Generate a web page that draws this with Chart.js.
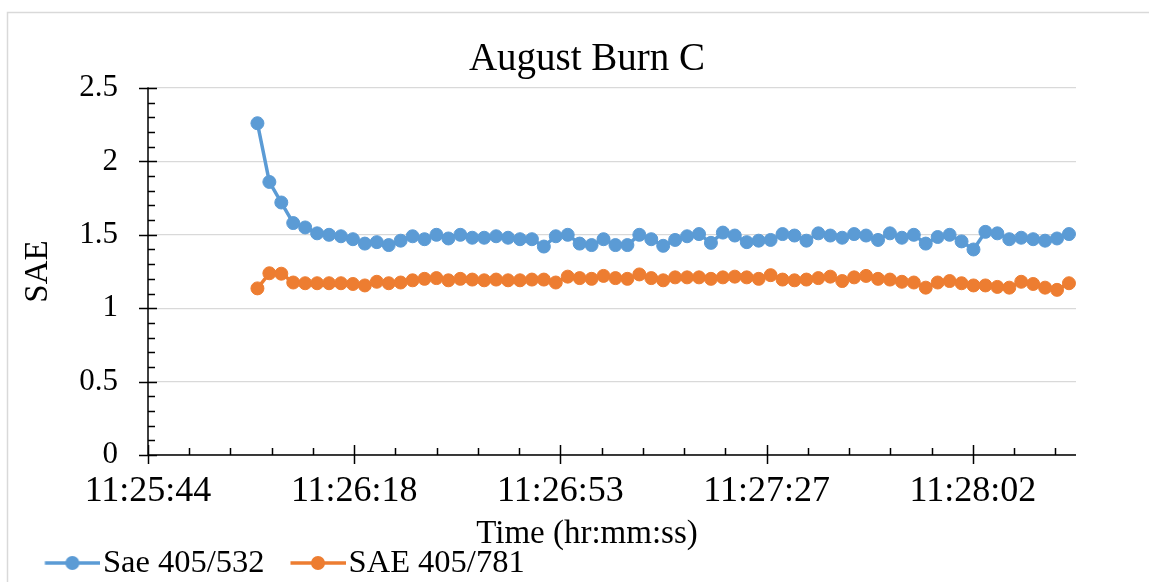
<!DOCTYPE html>
<html>
<head>
<meta charset="utf-8">
<title>August Burn C</title>
<script src="https://cdn.jsdelivr.net/npm/chart.js@4.4.1/dist/chart.umd.min.js"></script>
<style>
  html, body { margin: 0; padding: 0; background: #fff; }
  #wrap { width: 1149px; height: 582px; }
</style>
</head>
<body>
<div id="wrap"><canvas id="chart_sae" width="1149" height="582"></canvas></div>
<script>
const chartTitle = "August Burn C";
const xAxisTitle = "Time (hr:mm:ss)";
const yAxisTitle = "SAE";
const seriesNames = ["Sae 405/532", "SAE 405/781"];
const seriesColors = ["#5B9BD5", "#ED7D31"];

// sample times (hr:mm:ss)
const times = [
  "11:26:02", "11:26:04", "11:26:06", "11:26:08", "11:26:10", "11:26:12", "11:26:14", "11:26:16",
  "11:26:18", "11:26:20", "11:26:22", "11:26:24", "11:26:26", "11:26:28", "11:26:30", "11:26:32",
  "11:26:34", "11:26:36", "11:26:38", "11:26:40", "11:26:42", "11:26:44", "11:26:46", "11:26:48",
  "11:26:50", "11:26:52", "11:26:54", "11:26:56", "11:26:58", "11:27:00", "11:27:02", "11:27:04",
  "11:27:06", "11:27:08", "11:27:10", "11:27:12", "11:27:14", "11:27:16", "11:27:18", "11:27:20",
  "11:27:22", "11:27:24", "11:27:26", "11:27:28", "11:27:30", "11:27:32", "11:27:34", "11:27:36",
  "11:27:38", "11:27:40", "11:27:42", "11:27:44", "11:27:46", "11:27:48", "11:27:50", "11:27:52",
  "11:27:54", "11:27:56", "11:27:58", "11:28:00", "11:28:02", "11:28:04", "11:28:06", "11:28:08",
  "11:28:10", "11:28:12", "11:28:14", "11:28:16", "11:28:18"
];

const sae532 = [
  2.26, 1.86, 1.72, 1.58, 1.55, 1.51, 1.50, 1.49, 1.47, 1.44, 1.45, 1.43,
  1.46, 1.49, 1.47, 1.50, 1.475, 1.50, 1.48, 1.48, 1.49, 1.48, 1.47, 1.47,
  1.42, 1.49, 1.50, 1.44, 1.43, 1.47, 1.43, 1.43, 1.50, 1.47, 1.425, 1.465,
  1.49, 1.505, 1.445, 1.515, 1.495, 1.45, 1.46, 1.465, 1.505, 1.495, 1.46, 1.51,
  1.495, 1.48, 1.505, 1.495, 1.465, 1.51, 1.48, 1.50, 1.44, 1.485, 1.50, 1.455,
  1.40, 1.52, 1.51, 1.47, 1.48, 1.47, 1.46, 1.475, 1.505
];

const sae781 = [
  1.135, 1.238, 1.235, 1.175, 1.17, 1.17, 1.17, 1.17, 1.165, 1.155, 1.18, 1.17,
  1.175, 1.19, 1.20, 1.205, 1.19, 1.20, 1.195, 1.19, 1.195, 1.19, 1.19, 1.195,
  1.195, 1.175, 1.215, 1.205, 1.20, 1.22, 1.205, 1.20, 1.23, 1.205, 1.19, 1.21,
  1.21, 1.21, 1.20, 1.21, 1.215, 1.21, 1.20, 1.225, 1.195, 1.19, 1.195, 1.205,
  1.215, 1.185, 1.21, 1.22, 1.20, 1.195, 1.18, 1.175, 1.14, 1.175, 1.185, 1.17,
  1.155, 1.155, 1.145, 1.14, 1.18, 1.165, 1.14, 1.125, 1.17
];

const xTickLabels = ["11:25:44", "11:26:18", "11:26:53", "11:27:27", "11:28:02"];

// x axis in seconds since midnight, major unit 0.0004 day like the Excel sheet
const X_MIN = 41143.66;
const X_MAJOR = 34.56;
const X_MAX = X_MIN + 4.5 * X_MAJOR;
const Y_MAX = 2.5;
const Y_MAJOR = 0.5;

const FONT = "'Liberation Serif', 'Times New Roman', serif";
Chart.defaults.font.family = FONT;
Chart.defaults.color = "#000";

function toSeconds(t) {
  const p = t.split(":").map(Number);
  return p[0] * 3600 + p[1] * 60 + p[2];
}

// legend marker: short line with a dot, as Excel draws it
function makeLegendMark(color) {
  const c = document.createElement("canvas");
  c.width = 89;
  c.height = 20;
  const g = c.getContext("2d");
  g.strokeStyle = color;
  g.lineWidth = 3.5;
  g.beginPath();
  g.moveTo(33.5, 10);
  g.lineTo(89, 10);
  g.stroke();
  g.fillStyle = color;
  g.beginPath();
  g.arc(61, 10, 7, 0, Math.PI * 2);
  g.fill();
  return c;
}
const legendMarks = seriesColors.map(makeLegendMark);

const excelFrame = {
  id: "excelFrame",
  beforeDraw(chart) {
    const ctx = chart.ctx;
    ctx.save();
    ctx.strokeStyle = "#d9d9d9";
    ctx.lineWidth = 1.5;
    ctx.strokeRect(7.5, 12.5, chart.width + 40, chart.height + 40);
    ctx.restore();
  },
  afterDraw(chart) {
    const {ctx, chartArea, scales} = chart;
    const x = scales.x, y = scales.y;
    const left = chartArea.left, bottom = chartArea.bottom;
    ctx.save();
    ctx.strokeStyle = "#000";
    ctx.lineWidth = 1.5;
    ctx.beginPath();
    ctx.moveTo(left, chartArea.top - 0.75);
    ctx.lineTo(left, bottom);
    ctx.lineTo(chartArea.right, bottom);
    // y ticks: major cross the axis, minor inside
    for (let v = 0; v <= Y_MAX + 1e-9; v += Y_MAJOR / 5) {
      const py = Math.round(y.getPixelForValue(v)) + 0.5;
      const major = Math.abs(v / Y_MAJOR - Math.round(v / Y_MAJOR)) < 1e-6;
      ctx.moveTo(major ? left - 9 : left, py);
      ctx.lineTo(major ? left + 9 : left + 7, py);
    }
    // x ticks
    for (let k = 0; k <= 22; k++) {
      const px = Math.round(x.getPixelForValue(X_MIN + k * X_MAJOR / 5)) + 0.5;
      const major = k % 5 === 0;
      ctx.moveTo(px, major ? bottom - 10 : bottom - 7);
      ctx.lineTo(px, major ? bottom + 9 : bottom);
    }
    ctx.stroke();

    // chart title and x axis title, centred on the Excel chart object
    const centre = (7 + 1167) / 2;
    ctx.fillStyle = "#000";
    ctx.textAlign = "center";
    ctx.textBaseline = "alphabetic";
    ctx.font = "39px " + FONT;
    ctx.fillText(chartTitle, centre, 70);
    ctx.font = "33px " + FONT;
    ctx.fillText(xAxisTitle, centre, 543);
    ctx.restore();
  }
};

const chart_sae = new Chart(document.getElementById("chart_sae").getContext("2d"), {
  type: "line",
  data: {
    datasets: [
      {
        label: seriesNames[0],
        data: times.map((t, i) => ({x: toSeconds(t), y: sae532[i]})),
        borderColor: seriesColors[0],
        backgroundColor: seriesColors[0],
        borderWidth: 3.5,
        pointRadius: 6.5,
        pointBorderWidth: 1,
        pointHoverRadius: 6.5,
      },
      {
        label: seriesNames[1],
        data: times.map((t, i) => ({x: toSeconds(t), y: sae781[i]})),
        borderColor: seriesColors[1],
        backgroundColor: seriesColors[1],
        borderWidth: 3.5,
        pointRadius: 6.5,
        pointBorderWidth: 1,
        pointHoverRadius: 6.5,
      },
    ],
  },
  options: {
    responsive: false,
    animation: false,
    layout: { padding: { left: 19, right: 73, top: 88, bottom: 0 } },
    plugins: {
      title: { display: false },
      tooltip: { enabled: false },
      legend: {
        position: "bottom",
        align: "start",
        maxHeight: 41.25,
        labels: {
          font: { size: 32.5 },
          color: "#000",
          padding: 6,
          usePointStyle: true,
          pointStyleWidth: 61.75,
          generateLabels(chart) {
            const items = Chart.defaults.plugins.legend.labels.generateLabels(chart);
            items.forEach((it, i) => { it.pointStyle = legendMarks[i]; });
            return items;
          },
        },
      },
    },
    scales: {
      x: {
        type: "linear",
        min: X_MIN,
        max: X_MAX,
        afterBuildTicks(scale) {
          scale.ticks = xTickLabels.map((lbl, i) => ({value: X_MIN + i * X_MAJOR}));
        },
        afterFit(scale) { scale.height = 85.75; },
        grid: { display: false, drawTicks: false },
        border: { display: false },
        ticks: {
          font: { size: 36 },
          color: "#000",
          padding: 15,
          maxRotation: 0,
          autoSkip: false,
          callback: (v, i) => xTickLabels[i],
        },
      },
      y: {
        min: 0,
        max: Y_MAX,
        afterFit(scale) { scale.width = 129; },
        grid: { color: "#d9d9d9", lineWidth: 1.3, drawTicks: false },
        border: { display: false },
        ticks: {
          stepSize: Y_MAJOR,
          font: { size: 31 },
          color: "#000",
          padding: 30,
          callback: (v) => String(Math.round(v * 10) / 10),
        },
        title: {
          display: true,
          text: yAxisTitle,
          font: { size: 33 },
          color: "#000",
          padding: { top: 0, bottom: 0 },
        },
      },
    },
  },
  plugins: [excelFrame],
});
</script>
</body>
</html>
